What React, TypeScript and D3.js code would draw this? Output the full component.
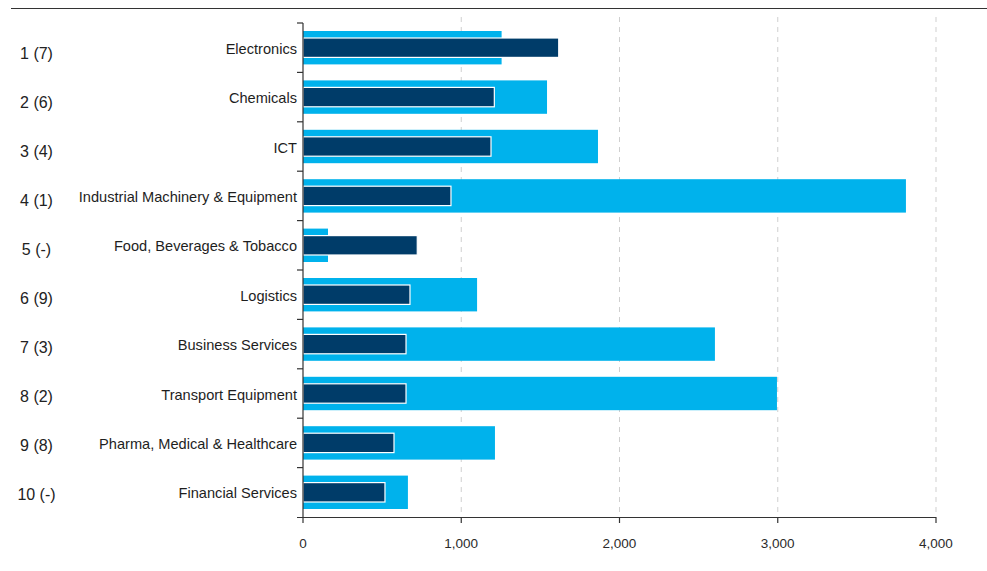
import React from "react";
import * as d3 from "d3";

const categories = [
  "Electronics",
  "Chemicals",
  "ICT",
  "Industrial Machinery & Equipment",
  "Food, Beverages & Tobacco",
  "Logistics",
  "Business Services",
  "Transport Equipment",
  "Pharma, Medical & Healthcare",
  "Financial Services",
];
const ranks = ["1 (7)", "2 (6)", "3 (4)", "4 (1)", "5 (-)", "6 (9)", "7 (3)", "8 (2)", "9 (8)", "10 (-)"];
const lightValues = [1255, 1542, 1864, 3810, 158, 1100, 2603, 2995, 1213, 663];
const darkValues = [1616, 1209, 1188, 935, 722, 676, 651, 651, 575, 518];
const xTicks = [0, 1000, 2000, 3000, 4000];

const W = 987;
const H = 571;
const LIGHT = "#00b2ec";
const DARK = "#003c69";
const FONT = "'Liberation Sans', Arial, sans-serif";

export default function App() {
  const x = d3.scaleLinear().domain([0, 4000]).range([303, 936]);
  const y = d3.scaleBand<string>().domain(categories).range([23, 517]).paddingInner(0).paddingOuter(0);
  const yRank = d3.scalePoint<string>().domain(ranks).range([53, 494]);
  const bw = y.bandwidth();
  const fmt = d3.format(",");
  const lightPad = 8;
  const darkPad = 15;

  return (
    <svg width={W} height={H} style={{ position: "absolute", left: 0, top: 0, background: "#fff" }}>
      <line x1={11} x2={987} y1={8.5} y2={8.5} stroke="#333" strokeWidth={1.2} />
      {xTicks.slice(1).map((t) => (
        <line key={"g" + t} x1={x(t)} x2={x(t)} y1={17} y2={517} stroke="#cfcfcf" strokeWidth={1} strokeDasharray="5,5" />
      ))}
      {categories.map((c, i) => {
        const y0 = y(c)!;
        return (
          <g key={c}>
            <rect x={x(0)} y={y0 + lightPad} width={x(lightValues[i]) - x(0)} height={bw - 2 * lightPad} fill={LIGHT} />
            <rect x={x(0)} y={y0 + darkPad} width={x(darkValues[i]) - x(0)} height={bw - 2 * darkPad} fill={DARK} stroke="#fff" strokeWidth={1.2} />
            <text x={297} y={y0 + bw / 2 + 1} dy="0.35em" textAnchor="end" fontFamily={FONT} fontSize={14.6} fill="#1e1e1e">{c}</text>
          </g>
        );
      })}
      {ranks.map((r) => (
        <text key={r} x={36.5} y={yRank(r)!} dy="0.35em" textAnchor="middle" fontFamily={FONT} fontSize={16} fill="#222">{r}</text>
      ))}
      {/* y axis */}
      <line x1={303} x2={303} y1={y.range()[0]} y2={518} stroke="#333" strokeWidth={1.2} />
      {categories.map((c) => (
        <line key={"t" + c} x1={297} x2={303} y1={y(c)!} y2={y(c)!} stroke="#333" strokeWidth={1.2} />
      ))}
      {/* x axis */}
      <line x1={297} x2={936} y1={517.5} y2={517.5} stroke="#333" strokeWidth={1.2} />
      {xTicks.map((t) => (
        <g key={"x" + t}>
          <line x1={x(t)} x2={x(t)} y1={517} y2={523} stroke="#333" strokeWidth={1.2} />
          <text x={x(t)} y={543} dy="0.35em" textAnchor="middle" fontFamily={FONT} fontSize={13.5} fill="#2b2b2b">{fmt(t)}</text>
        </g>
      ))}
    </svg>
  );
}
